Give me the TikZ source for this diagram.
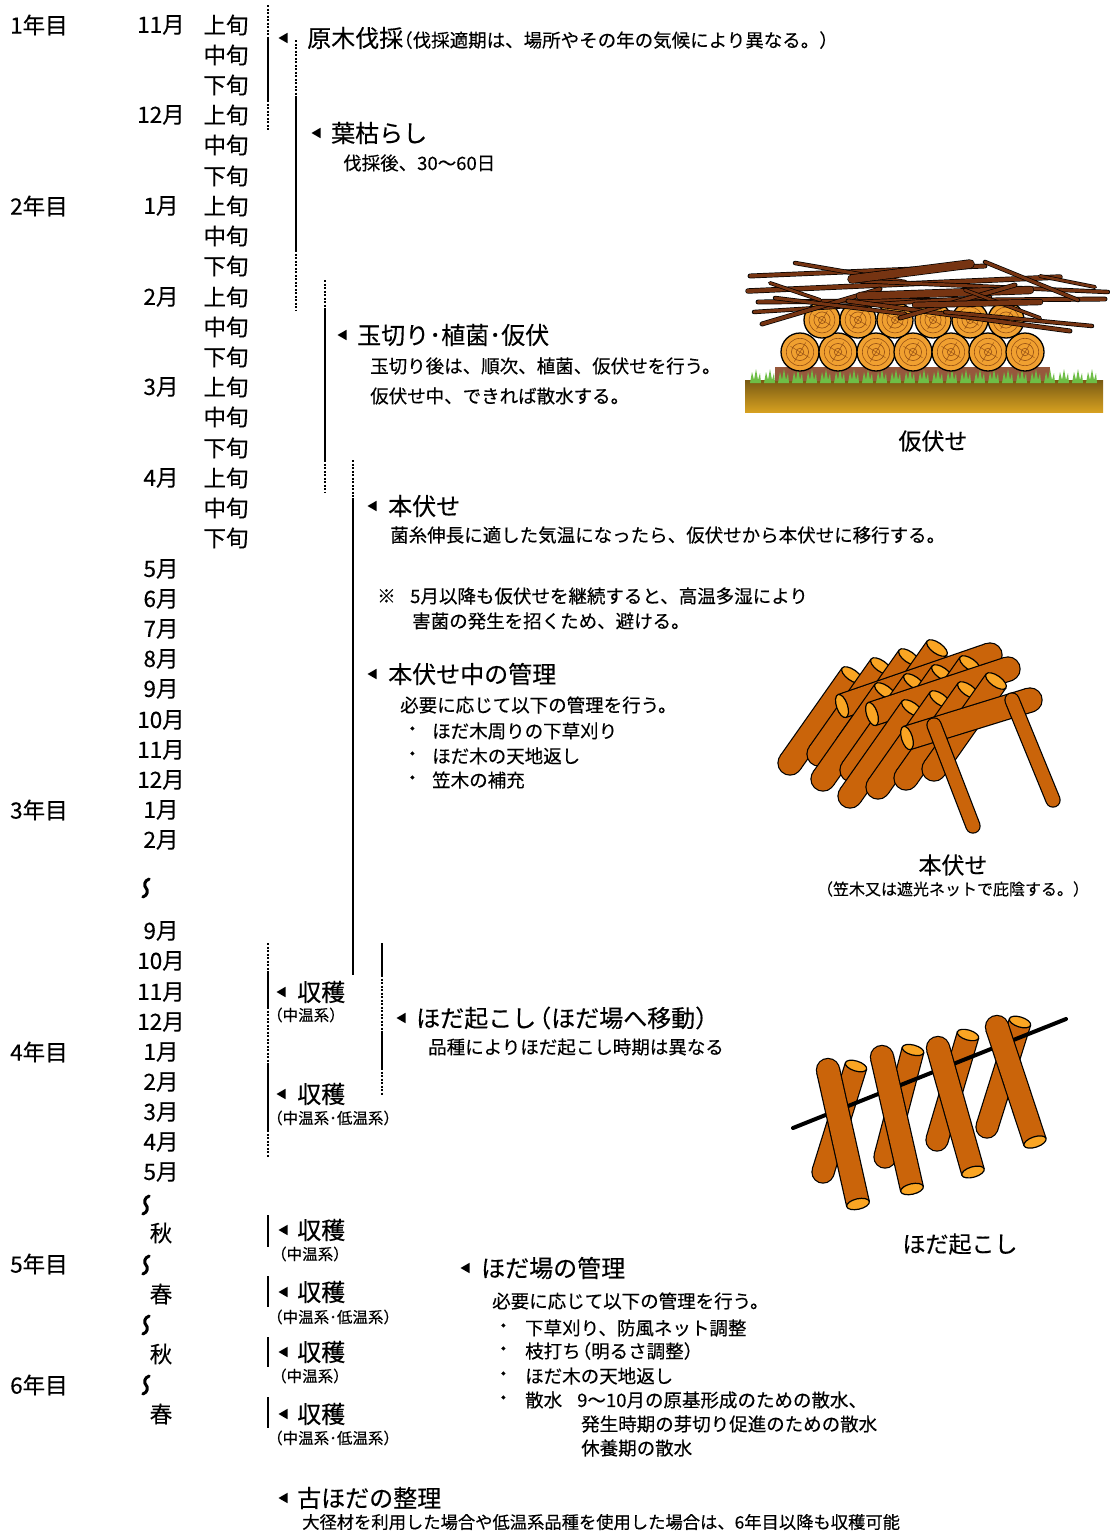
\documentclass[tikz,border=0pt]{standalone}
\usepackage{fontspec}
\setmainfont{Noto Sans CJK JP}[FakeBold=0.3]
\usepackage{tikz}
\usetikzlibrary{calc}

\definecolor{logc}{RGB}{202,100,10}
\definecolor{endc}{RGB}{250,165,35}
\definecolor{stackc}{RGB}{240,160,48}
\definecolor{ringc}{RGB}{150,80,20}
\definecolor{twigc}{RGB}{118,52,18}
\definecolor{grassc}{RGB}{110,190,70}
\definecolor{soiltop}{RGB}{120,90,20}
\definecolor{soilbot}{RGB}{214,160,32}
\definecolor{padc}{RGB}{150,88,60}

% log seen from the side: round end #1, cut face at #2, width #3, face turned by #4
\newcommand\woodlog[4]{%
  \fill #1 circle [radius=#3/2+1.2];
  \draw[line width=#3pt+2.4pt] #1 -- #2;
  \fill[logc] #1 circle [radius=#3/2];
  \draw[logc, line width=#3pt] #1 -- #2;
  \filldraw[fill=endc, line width=1.2pt] #2 circle [x radius=#3/2+0.6, y radius=#3/4.2, rotate=#4];}
% plain stick with round ends
\newcommand\woodpole[3]{%
  \draw[line width=#3pt+2.4pt, line cap=round] #1 -- #2;
  \draw[logc, line width=#3pt, line cap=round] #1 -- #2;}
% branch laid over the pile
\newcommand\twig[3]{%
  \draw[line width=#3pt+1.4pt, line cap=round] #1 -- #2;
  \draw[twigc, line width=#3pt, line cap=round] #1 -- #2;}
% stacked log seen from its cut face
\newcommand\pileend[3]{%
  \filldraw[fill=stackc, line width=1.3pt] (#1,#2) circle [radius=#3];
  \draw[ringc, line width=0.6pt] (#1,#2) circle [radius=#3*0.72] (#1,#2) circle [radius=#3*0.45] (#1,#2) circle [radius=#3*0.2];
  \draw[ringc, line width=0.5pt] (#1-#3*0.5,#2-#3*0.3) -- (#1+#3*0.5,#2+#3*0.3) (#1-#3*0.3,#2+#3*0.5) -- (#1+#3*0.3,#2-#3*0.5);}

\begin{document}
\begin{tikzpicture}[x=1pt,y=-1pt,
  every node/.style={inner sep=0pt},
  yr/.style={anchor=west, font=\fontsize{22.5}{26}\selectfont},
  mon/.style={font=\fontsize{22.5}{26}\selectfont},
  head/.style={anchor=west, font=\fontsize{24}{28}\selectfont},
  note/.style={anchor=west, font=\fontsize{18.5}{22}\selectfont},
  kind/.style={anchor=west, font=\fontsize{15.5}{18}\selectfont},
  figcap/.style={font=\fontsize{23}{26}\selectfont},
  solidbar/.style={line width=2.2pt},
  dotbar/.style={line width=1.6pt, dash pattern=on 2pt off 1.5pt},
  tri/.pic={\fill (-0.5,0) -- (8.5,-5.2) -- (8.5,5.2) -- cycle;},
  wave/.pic={\draw[line width=3pt, line cap=round] (3.2,-9) .. controls (-2,-7.5) and (-2.2,-2) .. (0,0) .. controls (2.2,2) and (2,7.5) .. (-3.2,9);}]
  \fill[white] (0,0) rectangle (1110,1534);
  \useasboundingbox (0,0) rectangle (1110,1534);

  % Years
  \node[yr] (Y1) at (10,25) {1年目};
  \node[yr] (Y2) at (10,206) {2年目};
  \node[yr] (Y3) at (10,810) {3年目};
  \node[yr] (Y4) at (10,1052) {4年目};
  \node[yr] (Y5) at (10,1264) {5年目};
  \node[yr] (Y6) at (10,1385) {6年目};

  % Months
  \node[mon] (Mo1) at (161,25) {11月};
  \node[mon] (Mo2) at (161,115) {12月};
  \node[mon] (Mo3) at (161,206) {1月};
  \node[mon] (Mo4) at (161,297) {2月};
  \node[mon] (Mo5) at (161,387) {3月};
  \node[mon] (Mo6) at (161,478) {4月};
  \node[mon] (Mo7) at (161,569) {5月};
  \node[mon] (Mo8) at (161,599) {6月};
  \node[mon] (Mo9) at (161,629) {7月};
  \node[mon] (Mo10) at (161,659) {8月};
  \node[mon] (Mo11) at (161,689) {9月};
  \node[mon] (Mo12) at (161,720) {10月};
  \node[mon] (Mo13) at (161,750) {11月};
  \node[mon] (Mo14) at (161,780) {12月};
  \node[mon] (Mo15) at (161,810) {1月};
  \node[mon] (Mo16) at (161,840) {2月};
  \pic at (146,888) {wave};
  \node[mon] (Mo17) at (161,931) {9月};
  \node[mon] (Mo18) at (161,961) {10月};
  \node[mon] (Mo19) at (161,992) {11月};
  \node[mon] (Mo20) at (161,1022) {12月};
  \node[mon] (Mo21) at (161,1052) {1月};
  \node[mon] (Mo22) at (161,1082) {2月};
  \node[mon] (Mo23) at (161,1112) {3月};
  \node[mon] (Mo24) at (161,1142) {4月};
  \node[mon] (Mo25) at (161,1172) {5月};
  \pic at (146,1205) {wave};
  \node[mon] (Se1) at (161,1233) {秋};
  \pic at (146,1265) {wave};
  \node[mon] (Se2) at (161,1294) {春};
  \pic at (146,1325) {wave};
  \node[mon] (Se3) at (161,1354) {秋};
  \pic at (146,1385) {wave};
  \node[mon] (Se4) at (161,1414) {春};

  % Ten-day periods
  \node[mon] (J1) at (226,25) {上旬};
  \node[mon] (J2) at (226,55) {中旬};
  \node[mon] (J3) at (226,85) {下旬};
  \node[mon] (J4) at (226,115) {上旬};
  \node[mon] (J5) at (226,145) {中旬};
  \node[mon] (J6) at (226,176) {下旬};
  \node[mon] (J7) at (226,206) {上旬};
  \node[mon] (J8) at (226,236) {中旬};
  \node[mon] (J9) at (226,266) {下旬};
  \node[mon] (J10) at (226,297) {上旬};
  \node[mon] (J11) at (226,327) {中旬};
  \node[mon] (J12) at (226,357) {下旬};
  \node[mon] (J13) at (226,387) {上旬};
  \node[mon] (J14) at (226,417) {中旬};
  \node[mon] (J15) at (226,448) {下旬};
  \node[mon] (J16) at (226,478) {上旬};
  \node[mon] (J17) at (226,508) {中旬};
  \node[mon] (J18) at (226,538) {下旬};

  % Period bars
  \draw[dotbar] (268,5) -- (268,37);
  \draw[solidbar] (268,37) -- (268,100);
  \draw[dotbar] (268,100) -- (268,130);
  \draw[dotbar] (296,40) -- (296,96);
  \draw[solidbar] (296,96) -- (296,250);
  \draw[dotbar] (296,250) -- (296,310);
  \draw[dotbar] (325,280) -- (325,310);
  \draw[solidbar] (325,310) -- (325,460);
  \draw[dotbar] (325,460) -- (325,492);
  \draw[dotbar] (353,460) -- (353,498);
  \draw[solidbar] (353,498) -- (353,975);
  \draw[dotbar] (268,943) -- (268,972);
  \draw[solidbar] (268,972) -- (268,1007);
  \draw[dotbar] (268,1007) -- (268,1065);
  \draw[solidbar] (268,1065) -- (268,1130);
  \draw[dotbar] (268,1130) -- (268,1157);
  \draw[solidbar] (382,943) -- (382,975);
  \draw[dotbar] (382,975) -- (382,1033);
  \draw[solidbar] (382,1033) -- (382,1068);
  \draw[dotbar] (382,1068) -- (382,1096);
  \draw[solidbar] (268,1215) -- (268,1247);
  \draw[solidbar] (268,1276) -- (268,1307);
  \draw[solidbar] (268,1337) -- (268,1367);
  \draw[solidbar] (268,1397) -- (268,1428);

  % Work steps
  \pic at (279,38) {tri};
  \node[head] (H1) at (307,38) {原木伐採\hspace{-9pt}{\fontsize{18.5}{22}\selectfont （伐採適期は、場所やその年の気候により異なる。）}};
  \pic at (312,133) {tri};
  \node[head] (H2) at (331,133) {葉枯らし};
  \node[note] (N2) at (343,163) {伐採後、30〜60日};
  \pic at (338,335) {tri};
  \node[head] (H3) at (357,335) {玉切り･植菌･仮伏};
  \node[note] (N3a) at (370,366) {玉切り後は、順次、植菌、仮伏せを行う。};
  \node[note] (N3b) at (370,396) {仮伏せ中、できれば散水する。};
  \pic at (368,506) {tri};
  \node[head] (H4) at (388,506) {本伏せ};
  \node[note] (N4) at (390,535) {菌糸伸長に適した気温になったら、仮伏せから本伏せに移行する。};
  \node[note] (N5) at (377,596) {※};
  \node[note] (N5a) at (410,596) {5月以降も仮伏せを継続すると、高温多湿により};
  \node[note] (N5b) at (412,621) {害菌の発生を招くため、避ける。};
  \pic at (368,674) {tri};
  \node[head] (H5) at (388,674) {本伏せ中の管理};
  \node[note] (N6) at (400,705) {必要に応じて以下の管理を行う。};
  \node[note] (B1) at (403,731) {・};
  \node[note] (I1) at (432,731) {ほだ木周りの下草刈り};
  \node[note] (B2) at (403,756) {・};
  \node[note] (I2) at (432,756) {ほだ木の天地返し};
  \node[note] (B3) at (403,780) {・};
  \node[note] (I3) at (432,780) {笠木の補充};

  \pic at (277,992) {tri};
  \node[head] (H6) at (297,992) {収穫};
  \node[kind] (K6) at (267,1015) {（中温系）};
  \pic at (397,1018) {tri};
  \node[head] (H7) at (416,1018) {ほだ起こし\hspace{-9pt}（ほだ場へ移動）};
  \node[note] (N7) at (428,1047) {品種によりほだ起こし時期は異なる};
  \pic at (277,1094) {tri};
  \node[head] (H8) at (297,1094) {収穫};
  \node[kind] (K8) at (267,1118) {（中温系･低温系）};

  \pic at (279,1230) {tri};
  \node[head] (H9) at (297,1230) {収穫};
  \node[kind] (K9) at (271,1254) {（中温系）};
  \pic at (279,1292) {tri};
  \node[head] (H10) at (297,1292) {収穫};
  \node[kind] (K10) at (267,1317) {（中温系･低温系）};
  \pic at (279,1352) {tri};
  \node[head] (H11) at (297,1352) {収穫};
  \node[kind] (K11) at (271,1376) {（中温系）};
  \pic at (279,1414) {tri};
  \node[head] (H12) at (297,1414) {収穫};
  \node[kind] (K12) at (267,1438) {（中温系･低温系）};

  \pic at (461,1268) {tri};
  \node[head] (H13) at (481,1268) {ほだ場の管理};
  \node[note] (N13) at (492,1301) {必要に応じて以下の管理を行う。};
  \node[note] (B4) at (494,1328) {・};
  \node[note] (I4) at (525,1328) {下草刈り、防風ネット調整};
  \node[note] (B5) at (494,1351) {・};
  \node[note] (I5) at (525,1351) {枝打ち\hspace{-8pt}（明るさ調整）};
  \node[note] (B6) at (494,1376) {・};
  \node[note] (I6) at (525,1376) {ほだ木の天地返し};
  \node[note] (B7) at (494,1400) {・};
  \node[note] (I7) at (525,1400) {散水\hspace{15pt}9〜10月の原基形成のための散水、};
  \node[note] (I8) at (581,1424) {発生時期の芽切り促進のための散水};
  \node[note] (I9) at (581,1448) {休養期の散水};

  \pic at (279,1498) {tri};
  \node[head] (H14) at (297,1498) {古ほだの整理};
  \node[note, font=\fontsize{17.3}{22}\selectfont] (N14) at (302,1522) {大径材を利用した場合や低温系品種を使用した場合は、6年目以降も収穫可能};

  % Temporary pile
  \shade[top color=soiltop, bottom color=soilbot] (745,380) rectangle (1103,412);
  \fill[padc] (775,367) rectangle (1050,381);
  \foreach \gx in {750,764,...,1096}
    \fill[grassc] (\gx,383) -- (\gx+2,372) -- (\gx+4,380) -- (\gx+6,369) -- (\gx+8,380) -- (\gx+10,373) -- (\gx+11,383) -- cycle;
  \foreach \cx in {800,838,876,913,951,988,1025} {\pileend{\cx}{352}{19}}
  \foreach \cx in {822,858,895,933,970,1006} {\pileend{\cx}{320}{18}}
  \twig{(750,276)}{(985,266)}{3.5}
  \twig{(748,291)}{(1060,277)}{4}
  \twig{(758,302)}{(1105,299)}{3.5}
  \twig{(754,312)}{(990,297)}{3}
  \twig{(795,263)}{(905,282)}{3}
  \twig{(860,281)}{(1108,292)}{3}
  \twig{(762,324)}{(880,289)}{3.5}
  \twig{(985,262)}{(1078,300)}{3}
  \twig{(848,301)}{(1070,331)}{3.5}
  \twig{(852,279)}{(970,264)}{8}
  \twig{(860,296)}{(1030,290)}{7}
  \twig{(945,312)}{(1092,326)}{3}
  \twig{(775,298)}{(905,314)}{3}
  \twig{(900,318)}{(1015,285)}{3.5}
  \twig{(770,283)}{(820,300)}{2.5}
  \twig{(1040,276)}{(1095,287)}{2.5}
  \twig{(965,290)}{(1040,318)}{2.5}
  \twig{(915,305)}{(1040,302)}{5}
  \node[figcap] (C1) at (933,441) {仮伏せ};

  % Main laying
  \woodlog{(790,763)}{(852,675)}{23}{144.8}
  \woodlog{(819,754)}{(881,666)}{23}{144.8}
  \woodlog{(847,745)}{(909,657)}{23}{144.8}
  \woodlog{(875,736)}{(937,648)}{23}{144.8}
  \woodlog{(990,655)}{(842,706)}{23}{108.9}
  \woodlog{(823,779)}{(885,691)}{23}{144.8}
  \woodlog{(852,770)}{(914,682)}{23}{144.8}
  \woodlog{(880,761)}{(942,673)}{23}{144.8}
  \woodlog{(908,752)}{(970,664)}{23}{144.8}
  \woodlog{(1008,669)}{(872,714)}{23}{108.2}
  \woodlog{(850,796)}{(912,708)}{23}{144.8}
  \woodlog{(878,787)}{(940,699)}{23}{144.8}
  \woodlog{(906,778)}{(968,690)}{23}{144.8}
  \woodlog{(934,769)}{(996,681)}{23}{144.8}
  \woodlog{(1030,700)}{(907,738)}{23}{106.9}
  \woodpole{(934,725)}{(973,826)}{13}
  \woodpole{(1012,700)}{(1053,800)}{13}
  \node[figcap] (C2) at (953,865) {本伏せ};
  \node[kind, anchor=center, font=\fontsize{16}{18}\selectfont] (C2b) at (953,889) {（笠木又は遮光ネットで庇陰する。）};

  % Raised logs on the pole
  \woodlog{(823,1172)}{(856,1066)}{21}{162.7}
  \woodlog{(885,1157)}{(913,1050)}{21}{165.3}
  \woodlog{(937,1140)}{(968,1035)}{21}{163.6}
  \woodlog{(987,1127)}{(1020,1022)}{21}{162.6}
  \draw[line width=4pt, line cap=round] (793,1128) -- (1066,1019);
  \woodlog{(828,1070)}{(858,1204)}{22}{12.6}
  \woodlog{(882,1057)}{(912,1189)}{22}{12.8}
  \woodlog{(938,1048)}{(973,1172)}{22}{15.8}
  \woodlog{(997,1027)}{(1035,1142)}{22}{18.3}
  \node[figcap] (C3) at (960,1244) {ほだ起こし};

\end{tikzpicture}
\end{document}
